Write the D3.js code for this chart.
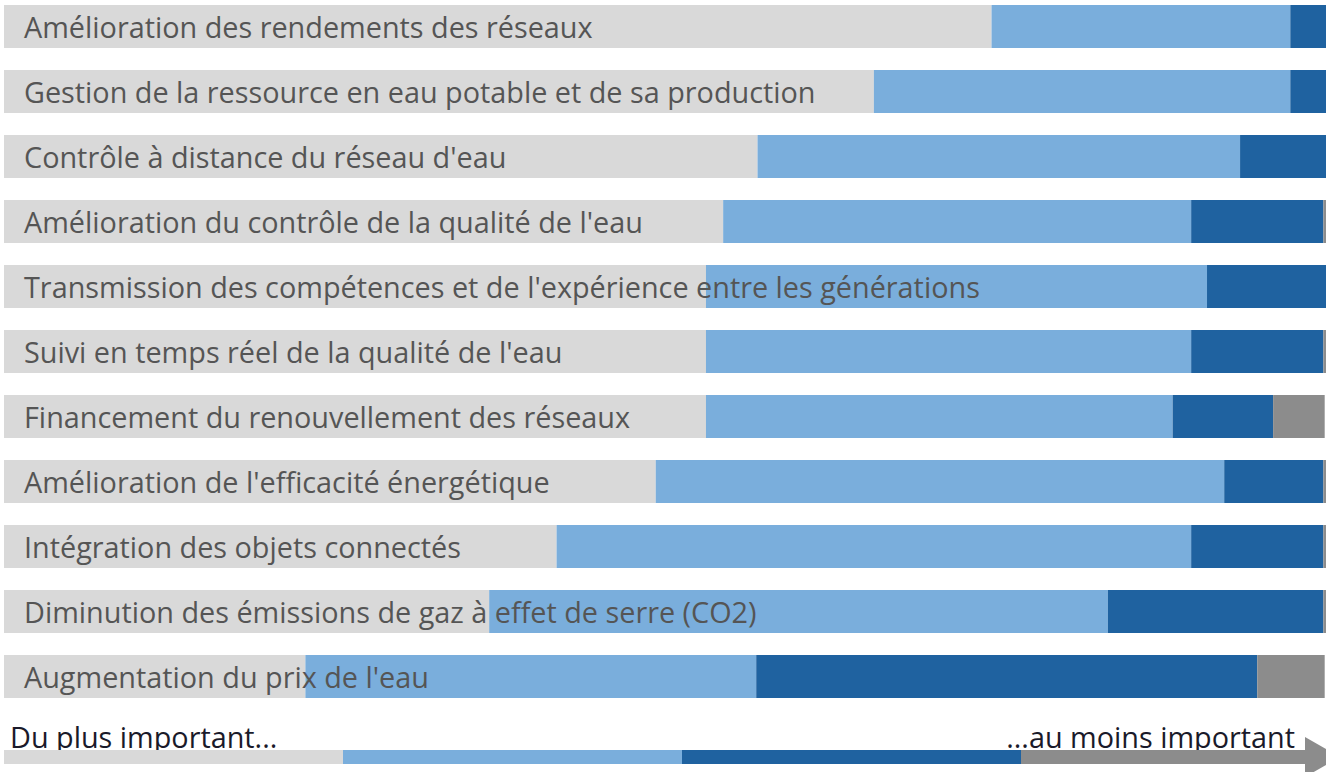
<!DOCTYPE html>
<html>
<head>
<meta charset="utf-8">
<script src="https://cdn.jsdelivr.net/npm/d3@7"></script>
<style>
  body { margin: 0; background: #fff; }
  svg { display: block; font-family: "Open Sans", sans-serif; }
</style>
</head>
<body>
<svg id="drawing_region"></svg>
<script>
// categories, top to bottom
const categories = [
    "Amélioration des rendements des réseaux",
    "Gestion de la ressource en eau potable et de sa production",
    "Contrôle à distance du réseau d'eau",
    "Amélioration du contrôle de la qualité de l'eau",
    "Transmission des compétences et de l'expérience entre les générations",
    "Suivi en temps réel de la qualité de l'eau",
    "Financement du renouvellement des réseaux",
    "Amélioration de l'efficacité énergétique",
    "Intégration des objets connectés",
    "Diminution des émissions de gaz à effet de serre (CO2)",
    "Augmentation du prix de l'eau"
];

// share (%) per rank group, from "most important" to "least important"
const rank1 = [74.7, 65.8, 57.0, 54.4, 53.1, 53.1, 53.1, 49.3, 41.8, 36.7, 22.8];
const rank2 = [22.6, 31.5, 36.5, 35.4, 37.9, 36.7, 35.3, 43.0, 48.0, 46.8, 34.1];
const rank3 = [ 2.7,  2.7,  6.5, 10.0,  9.0, 10.0,  7.6,  7.5, 10.0, 16.3, 37.9];
const rank4 = [ 0.0,  0.0,  0.0,  0.2,  0.0,  0.2,  3.9,  0.2,  0.2,  0.2,  5.1];

const keys = ["r1", "r2", "r3", "r4"];
const colors = ["#d9d9d9", "#7aaedc", "#1f62a0", "#8c8c8c"];

const legendStart = "Du plus important...";
const legendEnd = "...au moins important";

const config = {
    width: 1326,
    height: 772,
    fontSize: 28.8
};

const table = categories.map((c, i) => ({
    label: c, r1: rank1[i], r2: rank2[i], r3: rank3[i], r4: rank4[i]
}));

const svg = d3.select('#drawing_region')
    .attr('width', config.width)
    .attr('height', config.height);

const xscale = d3.scaleLinear()
    .domain([0, 100])
    .range([4, 1326]);

const yscale = d3.scaleBand()
    .domain(categories)
    .range([5, 698])
    .paddingInner(22 / 65)
    .paddingOuter(0);

const color = d3.scaleOrdinal()
    .domain(keys)
    .range(colors);

const series = d3.stack().keys(keys)(table);

svg.append('g')
    .selectAll('g')
    .data(series)
    .join('g')
    .attr('fill', d => color(d.key))
    .selectAll('rect')
    .data(d => d)
    .join('rect')
    .attr('x', d => xscale(d[0]))
    .attr('y', d => yscale(d.data.label))
    .attr('width', d => xscale(d[1]) - xscale(d[0]))
    .attr('height', yscale.bandwidth());

svg.append('g')
    .selectAll('text')
    .data(categories)
    .join('text')
    .attr('x', 24)
    .attr('y', d => yscale(d) + yscale.bandwidth() / 2 + 11.5)
    .attr('fill', '#555')
    .style('font-size', config.fontSize + 'px')
    .text(d => d);

// legend: rank arrow
const lscale = d3.scaleBand()
    .domain(keys)
    .range([4, 1360]);

const legend = svg.append('g');

legend.append('text')
    .attr('x', 10)
    .attr('y', 748)
    .attr('fill', '#1a1a2a')
    .style('font-size', config.fontSize + 'px')
    .text(legendStart);

legend.append('text')
    .attr('x', 1295)
    .attr('y', 748)
    .attr('text-anchor', 'end')
    .attr('fill', '#1a1a2a')
    .style('font-size', config.fontSize + 'px')
    .text(legendEnd);

legend.selectAll('rect')
    .data(keys)
    .join('rect')
    .attr('x', d => lscale(d))
    .attr('y', 750)
    .attr('width', d => d === 'r4' ? 1306 - lscale(d) : lscale.bandwidth())
    .attr('height', 14)
    .attr('fill', d => color(d));

legend.append('path')
    .attr('d', 'M1305,737 L1340,757 L1305,777 Z')
    .attr('fill', color('r4'));
</script>
</body>
</html>
